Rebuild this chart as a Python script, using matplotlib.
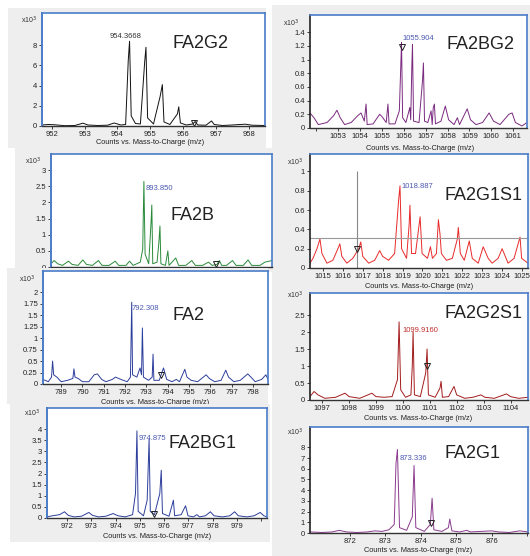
import matplotlib
matplotlib.use('Agg')
import matplotlib.pyplot as plt
from matplotlib.patches import Rectangle

# Spectra (m/z, counts x10^3)
fa2g2_mz = [951.70, 951.90, 952.10, 952.40, 952.70, 952.95, 953.10, 953.40, 953.70, 953.90,
            954.10, 954.25, 954.33, 954.37, 954.42, 954.55, 954.70, 954.83, 954.87, 954.92,
            955.10, 955.30, 955.37, 955.42, 955.60, 955.83, 955.87, 955.92, 956.10, 956.30,
            956.37, 956.45, 956.70, 956.87, 956.95, 957.20, 957.50, 957.90, 958.10, 958.50]
fa2g2_int = [0.10, 0.15, 0.12, 0.03, 0.05, 0.28, 0.10, 0.05, 0.08, 0.30,
             0.10, 0.15, 6.50, 8.40, 1.00, 0.25, 0.20, 6.30, 7.80, 0.80,
             0.20, 2.90, 4.10, 0.40, 0.15, 1.20, 1.90, 0.30, 0.10, 0.20,
             0.45, 0.10, 0.08, 0.50, 0.15, 0.05, 0.10, 0.18, 0.08, 0.05]

fa2bg2_mz = [1051.72, 1051.90, 1052.10, 1052.50, 1052.80, 1052.95, 1053.10, 1053.30, 1053.60, 1053.90,
             1054.05, 1054.20, 1054.28, 1054.33, 1054.60, 1054.90, 1055.00, 1055.20, 1055.28, 1055.33,
             1055.60, 1055.80, 1055.87, 1055.90, 1055.95, 1056.10, 1056.28, 1056.32, 1056.37, 1056.40,
             1056.45, 1056.70, 1056.86, 1056.90, 1056.95, 1057.10, 1057.25, 1057.30, 1057.35, 1057.40,
             1057.45, 1057.70, 1057.90, 1058.05, 1058.30, 1058.45, 1058.55, 1058.90, 1059.05, 1059.30,
             1059.60, 1059.90, 1060.10, 1060.40, 1060.80, 1060.95, 1061.10, 1061.40, 1061.63]
fa2bg2_int = [0.22, 0.15, 0.05, 0.08, 0.18, 0.26, 0.15, 0.05, 0.08, 0.18,
              0.22, 0.10, 0.35, 0.05, 0.06, 0.20, 0.17, 0.08, 0.35, 0.06,
              0.06, 0.25, 0.95, 1.25, 0.15, 0.08, 0.30, 0.12, 0.90, 1.22,
              0.10, 0.08, 0.70, 0.95, 0.10, 0.08, 0.25, 0.05, 0.30, 0.35,
              0.06, 0.10, 0.32, 0.12, 0.05, 0.15, 0.05, 0.28, 0.12, 0.05,
              0.08, 0.22, 0.10, 0.05, 0.20, 0.22, 0.08, 0.03, 0.08]

fa2b_mz = [889.97, 890.10, 890.25, 890.45, 890.70, 890.85, 891.10, 891.30, 891.45, 891.70,
           891.95, 892.10, 892.40, 892.65, 892.80, 893.10, 893.25, 893.40, 893.70, 893.80,
           893.85, 893.90, 894.05, 894.15, 894.18, 894.22, 894.40, 894.48, 894.52, 894.56,
           894.75, 894.85, 894.90, 895.18, 895.30, 895.60, 895.85, 896.00, 896.30, 896.55,
           896.70, 896.90, 897.00, 897.10, 897.30, 897.55, 897.70, 898.00, 898.20, 898.35,
           898.70, 898.90, 899.20]
fa2b_int = [0.10, 0.20, 0.10, 0.05, 0.18, 0.08, 0.05, 0.22, 0.08, 0.05,
            0.20, 0.05, 0.05, 0.18, 0.05, 0.05, 0.18, 0.05, 0.15, 0.55,
            2.65, 0.40, 0.10, 1.40, 1.92, 0.10, 0.15, 0.80, 1.27, 0.10,
            0.05, 0.50, 0.05, 0.28, 0.05, 0.05, 0.20, 0.05, 0.05, 0.15,
            0.05, 0.08, 0.20, 0.05, 0.05, 0.20, 0.05, 0.05, 0.22, 0.05,
            0.05, 0.15, 0.20]

fa2g1s1_mz = [1014.35, 1014.50, 1014.70, 1014.85, 1014.95, 1015.20, 1015.50, 1015.75, 1015.85, 1015.95,
              1016.20, 1016.50, 1016.80, 1016.90, 1017.00, 1017.30, 1017.60, 1017.85, 1018.00, 1018.30,
              1018.60, 1018.80, 1018.87, 1018.95, 1019.20, 1019.33, 1019.37, 1019.45, 1019.65, 1019.88,
              1019.98, 1020.25, 1020.40, 1020.50, 1020.70, 1020.80, 1020.88, 1020.95, 1021.20, 1021.50,
              1021.75, 1021.80, 1021.90, 1022.10, 1022.35, 1022.50, 1022.80, 1023.05, 1023.30, 1023.50,
              1023.80, 1024.00, 1024.30, 1024.60, 1024.90, 1024.98, 1025.30]
fa2g1s1_int = [0.05, 0.10, 0.20, 0.30, 0.15, 0.05, 0.08, 0.20, 0.25, 0.12,
               0.05, 0.10, 0.20, 0.27, 0.12, 0.05, 0.08, 0.18, 0.12, 0.08,
               0.15, 0.70, 0.85, 0.20, 0.10, 0.45, 0.65, 0.15, 0.15, 0.53,
               0.15, 0.10, 0.22, 0.10, 0.15, 0.50, 0.35, 0.15, 0.08, 0.10,
               0.30, 0.42, 0.15, 0.08, 0.28, 0.10, 0.05, 0.22, 0.10, 0.05,
               0.10, 0.20, 0.05, 0.10, 0.32, 0.10, 0.05]

fa2_mz = [788.15, 788.40, 788.55, 788.60, 788.65, 788.80, 789.00, 789.30, 789.55, 789.60,
          789.65, 789.80, 790.00, 790.30, 790.55, 790.70, 790.90, 791.10, 791.40, 791.55,
          791.80, 792.10, 792.25, 792.31, 792.35, 792.55, 792.70, 792.77, 792.81, 792.86,
          793.10, 793.27, 793.31, 793.35, 793.60, 793.80, 793.95, 794.20, 794.40, 794.55,
          794.80, 794.90, 795.10, 795.40, 795.80, 795.95, 796.20, 796.50, 796.72, 796.85,
          797.10, 797.40, 797.75, 797.90, 798.10, 798.40, 798.60, 798.70]
fa2_int = [0.10, 0.05, 0.15, 0.50, 0.20, 0.15, 0.05, 0.08, 0.12, 0.33,
           0.15, 0.12, 0.05, 0.05, 0.20, 0.22, 0.10, 0.05, 0.10, 0.15,
           0.10, 0.05, 0.15, 1.78, 0.20, 0.15, 0.35, 0.20, 1.22, 0.15,
           0.08, 0.15, 0.65, 0.08, 0.08, 0.35, 0.10, 0.05, 0.10, 0.05,
           0.32, 0.15, 0.08, 0.05, 0.20, 0.12, 0.05, 0.08, 0.30, 0.15,
           0.05, 0.08, 0.22, 0.15, 0.05, 0.10, 0.20, 0.10]

fa2g2s1_mz = [1096.55, 1096.70, 1096.85, 1097.10, 1097.50, 1097.85, 1098.00, 1098.40, 1098.85, 1099.00,
              1099.30, 1099.60, 1099.80, 1099.86, 1099.92, 1100.10, 1100.30, 1100.35, 1100.38, 1100.43,
              1100.65, 1100.85, 1100.90, 1100.95, 1101.20, 1101.38, 1101.42, 1101.47, 1101.70, 1101.90,
              1102.00, 1102.30, 1102.60, 1102.90, 1103.05, 1103.40, 1103.85, 1104.00, 1104.30, 1104.65]
fa2g2s1_int = [0.10, 0.25, 0.15, 0.05, 0.08, 0.20, 0.10, 0.05, 0.20, 0.10,
               0.08, 0.10, 0.60, 2.30, 0.30, 0.08, 0.15, 1.00, 2.00, 0.15,
               0.10, 0.80, 1.50, 0.15, 0.08, 0.35, 0.55, 0.08, 0.10, 0.40,
               0.15, 0.05, 0.08, 0.15, 0.08, 0.05, 0.18, 0.10, 0.05, 0.08]

fa2bg1_mz = [971.18, 971.40, 971.70, 971.90, 972.05, 972.30, 972.60, 972.90, 973.05, 973.30,
             973.60, 973.90, 974.10, 974.40, 974.70, 974.82, 974.88, 974.93, 975.15, 975.30,
             975.38, 975.43, 975.60, 975.82, 975.88, 975.93, 976.20, 976.38, 976.43, 976.70,
             976.88, 976.98, 977.20, 977.35, 977.45, 977.70, 977.90, 978.05, 978.40, 978.70,
             978.90, 979.05, 979.40, 979.70, 979.95, 980.10, 980.23]
fa2bg1_int = [0.05, 0.10, 0.15, 0.28, 0.12, 0.05, 0.08, 0.25, 0.12, 0.05,
              0.08, 0.20, 0.10, 0.05, 0.15, 1.10, 3.92, 0.30, 0.10, 0.80,
              3.55, 0.30, 0.15, 1.10, 2.15, 0.20, 0.08, 0.80, 0.10, 0.15,
              0.55, 0.10, 0.05, 0.15, 0.05, 0.10, 0.28, 0.10, 0.05, 0.10,
              0.28, 0.10, 0.05, 0.10, 0.25, 0.10, 0.05]

fa2g1_mz = [870.87, 871.20, 871.50, 871.70, 871.90, 872.20, 872.50, 872.70, 872.90, 873.10,
            873.25, 873.30, 873.34, 873.40, 873.60, 873.76, 873.81, 873.86, 874.10, 874.27,
            874.32, 874.37, 874.60, 874.78, 874.82, 874.88, 875.10, 875.30, 875.40, 875.70,
            876.00, 876.20, 876.50, 876.80, 877.03]
fa2g1_int = [0.10, 0.05, 0.10, 0.25, 0.10, 0.05, 0.10, 0.20, 0.15, 0.30,
             0.80, 6.50, 7.80, 0.50, 0.25, 1.50, 6.30, 0.50, 0.15, 0.80,
             3.25, 0.30, 0.15, 0.50, 1.30, 0.20, 0.10, 0.25, 0.10, 0.15,
             0.20, 0.10, 0.05, 0.20, 0.10]

# Peak labels, glycan names, axis ticks
names = ['FA2G2', 'FA2BG2', 'FA2B', 'FA2G1S1', 'FA2', 'FA2G2S1', 'FA2BG1', 'FA2G1']
peak_labels = ['954.3668', '1055.904', '893.850', '1018.887', '792.308', '1099.9160', '974.875', '873.336']
fa2g2_yticks = [0, 2, 4, 6, 8]
fa2bg2_yticks = [0, 0.2, 0.4, 0.6, 0.8, 1, 1.2, 1.4]
fa2b_yticks = [0, 0.5, 1, 1.5, 2, 2.5, 3]
fa2g1s1_yticks = [0, 0.2, 0.4, 0.6, 0.8, 1]
fa2_yticks = [0, 0.25, 0.5, 0.75, 1, 1.25, 1.5, 1.75, 2]
fa2g2s1_yticks = [0, 0.5, 1, 1.5, 2, 2.5]
fa2bg1_yticks = [0, 0.5, 1, 1.5, 2, 2.5, 3, 3.5, 4]
fa2g1_yticks = [0, 1, 2, 3, 4, 5, 6, 7, 8]
fa2g2_xticks = list(range(952, 959))
fa2bg2_xticks = list(range(1052, 1062))
fa2b_xticks = list(range(890, 900))
fa2g1s1_xticks = list(range(1015, 1026))
fa2_xticks = list(range(789, 799))
fa2g2s1_xticks = list(range(1097, 1105))
fa2bg1_xticks = list(range(972, 981))
fa2g1_xticks = list(range(872, 878))
# ticks drawn without a label (cut off in the screenshots)
unlabelled = [[], [1052], fa2b_xticks, [], [], [], [980], [877]]
# flagged (triangle) points
marks = [(956.35, 0.3), (1055.90, 1.18), (896.85, 0.08), (1016.70, 0.2),
         (793.70, 0.2), (1100.90, 1.0), (975.60, 0.2), (874.30, 0.9)]

W, H = 530, 556
BG = '#eeeeee'
BLUE_BOX = '#4a7cc8'
XLABEL = 'Counts vs. Mass-to-Charge (m/z)'
TITLE_FONT = ['Liberation Sans Narrow', 'Liberation Sans', 'DejaVu Sans']
SMALL_FONT = ['Liberation Sans', 'DejaVu Sans']


def box(l, t, r, b):
    # pixel box (top-left origin) -> figure fraction rect
    return [l / W, 1 - b / H, (r - l) / W, (b - t) / H]


def pt(x, y):
    return x / W, 1 - y / H


def main():
    fig = plt.figure(figsize=(W / 100, H / 100), dpi=100)
    fig.patch.set_facecolor('white')

    panels = [
        # data, ticks, limits, layout in pixels, colours
        dict(mz=fa2g2_mz, y=fa2g2_int, xt=fa2g2_xticks, yt=fa2g2_yticks, xl=(951.7, 958.5), yl=11.2,
             ax=(42, 13, 265, 126), bg=(8, 8, 266, 148), col='#111111', lab_col='#333333',
             title=(200, 44), lab=(126, 36), x10=(29, 20), xlab=(150, 143), left='col', z=1),
        dict(mz=fa2bg2_mz, y=fa2bg2_int, xt=fa2bg2_xticks, yt=fa2bg2_yticks, xl=(1051.72, 1061.63), yl=1.65,
             ax=(310, 15, 527, 128), bg=(272, 5, 530, 155), col='#7b2a80', lab_col='#4a58b0',
             title=(480, 45), lab=(418, 38), x10=(291, 23), xlab=(420, 148), left='right', z=1),
        dict(mz=fa2b_mz, y=fa2b_int, xt=fa2b_xticks, yt=fa2b_yticks, xl=(889.97, 899.2), yl=3.5,
             ax=(51, 154, 272, 267), bg=(15, 148, 275, 272), col='#2a8a3a', lab_col='#4a58b0',
             title=(193, 216), lab=(159, 188), x10=(33, 161), xlab=None, left='col', z=3),
        dict(mz=fa2g1s1_mz, y=fa2g1s1_int, xt=fa2g1s1_xticks, yt=fa2g1s1_yticks, xl=(1014.35, 1025.3), yl=1.18,
             ax=(310, 154, 528, 268), bg=(272, 155, 530, 290), col='#e82a2a', lab_col='#4a58b0',
             title=(483, 195), lab=(417, 187), x10=(295, 162), xlab=(419, 286), left='right', z=3),
        dict(mz=fa2_mz, y=fa2_int, xt=fa2_xticks, yt=fa2_yticks, xl=(788.15, 798.7), yl=2.46,
             ax=(43, 271, 268, 384), bg=(7, 268, 268, 404), col='#2c3e9c', lab_col='#4a58b0',
             title=(188, 315), lab=(145, 309), x10=(27, 279), xlab=(155, 402), left='col', z=5),
        dict(mz=fa2g2s1_mz, y=fa2g2s1_int, xt=fa2g2s1_xticks, yt=fa2g2s1_yticks, xl=(1096.55, 1104.65), yl=3.15,
             ax=(310, 293, 528, 400), bg=(272, 290, 530, 425), col='#a31c1c', lab_col='#c03030',
             title=(483, 314), lab=(420, 330), x10=(295, 295), xlab=(418, 419), left='right', z=5),
        dict(mz=fa2bg1_mz, y=fa2bg1_int, xt=fa2bg1_xticks, yt=fa2bg1_yticks, xl=(971.18, 980.23), yl=4.95,
             ax=(47, 408, 267, 518), bg=(10, 404, 270, 542), col='#2c3e9c', lab_col='#4a58b0',
             title=(203, 443), lab=(152, 439), x10=(32, 413), xlab=(157, 536), left='col', z=7),
        dict(mz=fa2g1_mz, y=fa2g1_int, xt=fa2g1_xticks, yt=fa2g1_yticks, xl=(870.87, 877.03), yl=9.9,
             ax=(310, 427, 528, 533), bg=(272, 425, 530, 556), col='#8a3a8e', lab_col='#4a58b0',
             title=(473, 453), lab=(413, 458), x10=(295, 432), xlab=(418, 551), left='right', z=7),
    ]

    for i, p in enumerate(panels):
        z = p['z'] * 10
        l, t, r, b = p['bg']
        fig.add_artist(Rectangle((l / W, 1 - b / H), (r - l) / W, (b - t) / H,
                                 transform=fig.transFigure, facecolor=BG, edgecolor='none', zorder=z))

        ax = fig.add_axes(box(*p['ax']), zorder=z + 1)
        ax.set_facecolor('white')
        ax.plot(p['mz'], p['y'], color=p['col'], lw=0.7)
        ax.set_xlim(*p['xl'])
        ax.set_ylim(0, p['yl'])

        # FA2G1S1 has a threshold line and a cursor
        if names[i] == 'FA2G1S1':
            ax.axhline(0.31, color='#999999', lw=0.8)
            ax.vlines(1016.7, 0, 1.0, color='#888888', lw=0.8)

        mx, my = marks[i]
        ax.plot([mx], [my], marker='v', ms=4, mfc='none', mec='#222222', mew=0.7)

        ax.set_xticks(p['xt'])
        ax.set_xticklabels(['' if v in unlabelled[i] else str(v) for v in p['xt']],
                           fontfamily=SMALL_FONT)
        ax.set_yticks(p['yt'])
        ax.set_yticklabels(['%g' % v for v in p['yt']], fontfamily=SMALL_FONT)
        ax.tick_params(labelsize=5.5, length=2.5, width=0.6, pad=1.2, colors='#222222')

        for side in ['top', 'right']:
            ax.spines[side].set_color(BLUE_BOX)
            ax.spines[side].set_linewidth(1.2)
        ax.spines['bottom'].set_color('#333333')
        ax.spines['bottom'].set_linewidth(1.0)
        if p['left'] == 'col':
            ax.spines['left'].set_color(BLUE_BOX)
            ax.spines['left'].set_linewidth(1.4)
        else:
            ax.spines['left'].set_color('#222222')
            ax.spines['left'].set_linewidth(1.2)

        # text overlays placed in pixel coordinates
        fig.text(*pt(*p['title']), names[i], fontsize=13, fontfamily=TITLE_FONT, color='#222222',
                 ha='center', va='center', zorder=z + 2)
        fig.text(*pt(*p['lab']), peak_labels[i], fontsize=5.5, fontfamily=SMALL_FONT, color=p['lab_col'],
                 ha='center', va='center', zorder=z + 2)
        fig.text(*pt(*p['x10']), r'x10$^3$', fontsize=5, fontfamily=SMALL_FONT, color='#333333',
                 ha='center', va='center', zorder=z + 2)
        if p['xlab'] is not None:
            fig.text(*pt(*p['xlab']), XLABEL, fontsize=5.3, fontfamily=SMALL_FONT, color='#222222',
                     ha='center', va='center', zorder=z + 2)

    plt.savefig('out.png', dpi=100)
    plt.close()


if __name__ == "__main__":
    main()
